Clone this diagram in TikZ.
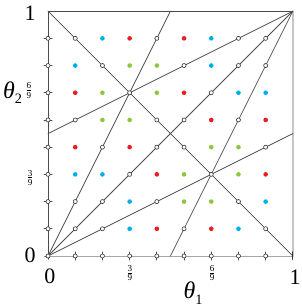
\documentclass[tikz,border=0pt]{standalone}
\usepackage{amsmath}
\usepackage{fontspec}
\setmainfont{Liberation Serif}
\definecolor{dotred}{RGB}{237,28,36}
\definecolor{dotblue}{RGB}{0,174,239}
\definecolor{dotgreen}{RGB}{141,198,63}
\begin{document}
\begin{tikzpicture}[x=0.5cm,y=0.5cm, line join=round, line cap=round, font=\fontsize{11.5}{13}\selectfont]
	\def\n{9} \def\rr{0.075} \def\rd{0.085}
	\tikzset{gline/.style={black!70, line width=0.4pt},
		opendot/.style={draw=black!75, fill=white, line width=0.35pt},
		frac/.style={font=\fontsize{6.8}{8}\selectfont, inner sep=0pt}}
	\useasboundingbox (-1.765,-1.875) rectangle (9.30,9.41);
	\coordinate (O) at (0,0); \coordinate (E) at (\n,\n);
	\coordinate (TL) at (0,\n); \coordinate (BR) at (\n,0);
	\coordinate (P) at (3,6); \coordinate (Q) at (6,3);
	\coordinate (L) at (0,4.5); \coordinate (T) at (4.5,\n);
	\coordinate (R) at (\n,4.5); \coordinate (B) at (4.5,0);
	% frame
	\draw[gray!45, line width=0.8pt] (BR)--(E);
	\draw[gray!70, line width=0.5pt] (O)--(BR);
	\draw[gline] (O)--(TL)--(E);
	% lines
	\draw[gline] (TL)--(BR) (O)--(E);
	\draw[gline] (O)--(T) (O)--(R);
	\draw[gline] (E)--(L) (E)--(B);
	% axis marks
	\foreach \k in {1,...,8} {
		\draw[gline] (-0.15,\k)--(0.15,\k);
		\draw[opendot] (0,\k) circle (\rr);
		\draw[gline] (\k,-0.15)--(\k,0.15);
		\draw[opendot] (\k,0) circle (\rr);
	}
	\draw[gline] (-0.12,0)--(0,0)--(0,-0.12);
	\draw[opendot] (O) circle (\rr);
	\draw[black!80, line width=0.6pt] (\n,-0.12)--(\n,0.15);
	% open points on the lines
	\foreach \x/\y in {1/8,4/8,7/8,8/8,2/7,5/7,7/7,8/7,3/6,6/6,1/5,4/5,5/5,7/5,
		2/4,4/4,5/4,8/4,3/3,6/3,1/2,2/2,4/2,7/2,1/1,2/1,5/1,8/1}
		\draw[opendot] (\x,\y) circle (\rr);
	% coloured points
	\foreach \x/\y in {3/8,5/8,1/6,5/6,6/5,8/5,1/4,3/4,4/3,8/3,4/1,6/1}
		\fill[dotred] (\x,\y) circle (\rd);
	\foreach \x/\y in {2/8,6/8,1/7,6/7,7/6,8/6,1/3,2/3,3/2,8/2,3/1,7/1}
		\fill[dotblue] (\x,\y) circle (\rd);
	\foreach \x/\y in {3/7,4/7,2/6,4/6,2/5,3/5,6/4,7/4,5/3,7/3,5/2,6/2}
		\fill[dotgreen] (\x,\y) circle (\rd);
	% labels
	\node (ytop) at (-0.66,8.93) {1};
	\node (yzero) at (-0.66,0.04) {0};
	\node (xzero) at (0.07,-0.74) {0};
	\node (xone) at (9.08,-0.77) {1};
	\node[frac] (ysix) at (-0.70,6.07) {$\frac{\text{6}}{\text{9}}$};
	\node[frac] (ythree) at (-0.66,2.87) {$\frac{\text{3}}{\text{9}}$};
	\node[frac] (xthree) at (3.01,-0.63) {$\frac{\text{3}}{\text{9}}$};
	\node[frac] (xsix) at (6.03,-0.63) {$\frac{\text{6}}{\text{9}}$};
	\node[inner sep=0pt, font=\fontsize{12.5}{14}\selectfont] (thtwo) at (-1.3,6.0) {\textit{θ}\raisebox{-0.5ex}{\fontsize{7.5}{8}\selectfont 2}};
	\node[inner sep=0pt, font=\fontsize{12.5}{14}\selectfont] (thone) at (5.33,-1.36) {\textit{θ}\raisebox{-0.5ex}{\fontsize{7.5}{8}\selectfont 1}};
\end{tikzpicture}
\end{document}
